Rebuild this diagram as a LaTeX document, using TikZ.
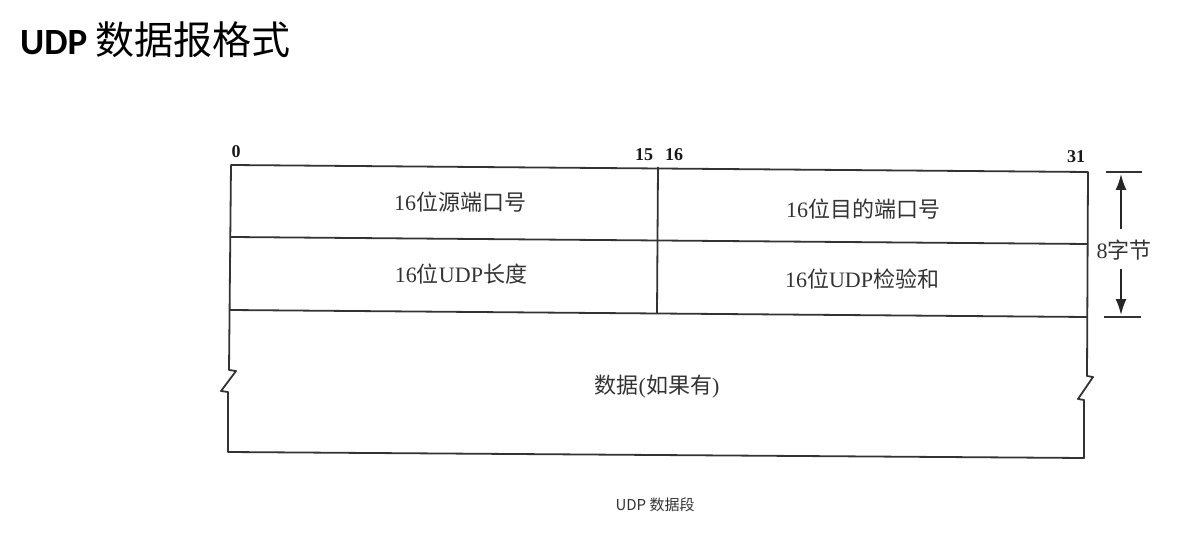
\documentclass[tikz,border=0pt]{standalone}
\usepackage{fontspec}
\setmainfont{Liberation Serif}
\newfontfamily\cjk{Noto Sans CJK SC}
\newfontfamily\latinsans{Carlito}
\usetikzlibrary{arrows.meta}
\begin{document}
\begin{tikzpicture}[x=1pt,y=-1pt,
  frame/.style={line width=1.8pt, draw=black!80, line join=round},
  field/.style={inner sep=0pt, text=black!80, font=\fontsize{22}{26}\selectfont},
  bitnum/.style={inner sep=0pt, text=black!90, font=\fontsize{18}{20}\selectfont\bfseries},
  dimarrow/.style={line width=1.8pt, draw=black!85, -{Latex[length=16pt,width=11pt]}},
]
\useasboundingbox (0,0) rectangle (1178,540);

% heading
\node[anchor=west, inner sep=0pt] (title) at (20,40)
  {{\latinsans\bfseries\fontsize{37}{40}\selectfont UDP }{\cjk\fontsize{39}{42}\selectfont 数据报格式}};

% header corners and row boundaries
\coordinate (tl) at (231,165);  \coordinate (tm) at (658,167);  \coordinate (tr) at (1088,172);
\coordinate (ml1) at (231,237); \coordinate (mr1) at (1088,244);
\coordinate (ml2) at (230,310); \coordinate (mm2) at (657,313); \coordinate (mr2) at (1087,317);
\coordinate (bl) at (228,452);  \coordinate (br) at (1084,458);
% break marks on the data area
\coordinate (zl1) at (229,370); \coordinate (zl2) at (236,371);
\coordinate (zl3) at (221,391); \coordinate (zl4) at (228,392);
\coordinate (zr1) at (1087,376); \coordinate (zr2) at (1093,377);
\coordinate (zr3) at (1078,399); \coordinate (zr4) at (1084,400);

% outline
\draw[frame] (tl) -- (tr) -- (zr1) -- (zr2) -- (zr3) -- (zr4) -- (br)
  -- (bl) -- (zl4) -- (zl3) -- (zl2) -- (zl1) -- cycle;
\draw[frame] (ml1) -- (mr1);
\draw[frame] (ml2) -- (mr2);
\draw[frame] (tm) -- (mm2);

% bit positions
\node[bitnum] (b0) at (236,152) {0};
\node[bitnum] (b15) at (644,155) {15};
\node[bitnum] (b16) at (674,155) {16};
\node[bitnum] (b31) at (1076,157) {31};

% fields
\node[field] (srcport) at (460,202) {16{\cjk 位源端口号}};
\node[field] (dstport) at (863,209) {16{\cjk 位目的端口号}};
\node[field] (ulen) at (461,274) {16{\cjk 位}UDP{\cjk 长度}};
\node[field] (csum) at (862,279) {16{\cjk 位}UDP{\cjk 检验和}};
\node[field] (data) at (657,387) {{\cjk 数据}({\cjk 如果有})};

% header size dimension
\coordinate (dt1) at (1106,172); \coordinate (dt2) at (1142,172);
\coordinate (db1) at (1104,317); \coordinate (db2) at (1141,317);
\draw[frame] (dt1) -- (dt2);
\draw[frame] (db1) -- (db2);
\node[field] (hdrsize) at (1124,250) {8{\cjk 字节}};
\coordinate (au1) at (1121,229); \coordinate (au2) at (1121,174);
\coordinate (ad1) at (1121,269); \coordinate (ad2) at (1121,315);
\draw[dimarrow] (au1) -- (au2);
\draw[dimarrow] (ad1) -- (ad2);

% caption
\node[inner sep=0pt, text=black!80, font=\cjk\fontsize{15}{17}\selectfont] (caption) at (655,505) {UDP 数据段};
\end{tikzpicture}
\end{document}
